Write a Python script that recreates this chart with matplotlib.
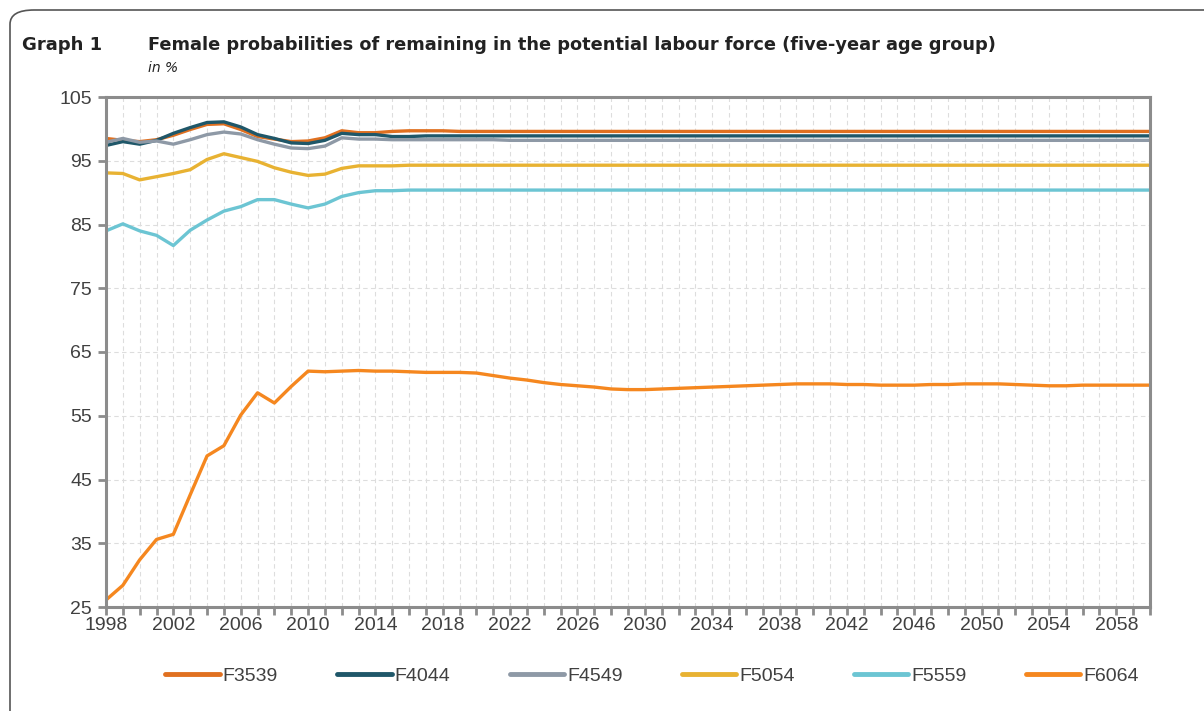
import matplotlib.pyplot as plt
from matplotlib.patches import FancyBboxPatch
from matplotlib.ticker import MultipleLocator

years = list(range(1998, 2061))

f3539 = [98.5, 98.2, 98.0, 98.3, 99.0, 99.9, 100.7, 100.8, 99.9, 98.8,
         98.4, 98.0, 98.1, 98.6, 99.7, 99.4, 99.4, 99.6, 99.7, 99.7,
         99.7, 99.6, 99.6, 99.6, 99.6, 99.6, 99.6, 99.6, 99.6, 99.6,
         99.6, 99.6, 99.6, 99.6, 99.6, 99.6, 99.6, 99.6, 99.6, 99.6,
         99.6, 99.6, 99.6, 99.6, 99.6, 99.6, 99.6, 99.6, 99.6, 99.6,
         99.6, 99.6, 99.6, 99.6, 99.6, 99.6, 99.6, 99.6, 99.6, 99.6,
         99.6, 99.6, 99.6]
f4044 = [97.4, 98.0, 97.6, 98.2, 99.3, 100.2, 101.0, 101.1, 100.3, 99.1,
         98.5, 97.8, 97.7, 98.2, 99.3, 99.1, 99.1, 98.8, 98.8, 98.9,
         98.9, 98.9, 98.9, 98.9, 98.9, 98.9, 98.9, 98.9, 98.9, 98.9,
         98.9, 98.9, 98.9, 98.9, 98.9, 98.9, 98.9, 98.9, 98.9, 98.9,
         98.9, 98.9, 98.9, 98.9, 98.9, 98.9, 98.9, 98.9, 98.9, 98.9,
         98.9, 98.9, 98.9, 98.9, 98.9, 98.9, 98.9, 98.9, 98.9, 98.9,
         98.9, 98.9, 98.9]
f4549 = [97.9, 98.5, 97.9, 98.1, 97.6, 98.3, 99.1, 99.5, 99.2, 98.3,
         97.6, 97.0, 96.9, 97.3, 98.6, 98.4, 98.4, 98.3, 98.3, 98.3,
         98.3, 98.3, 98.3, 98.3, 98.2, 98.2, 98.2, 98.2, 98.2, 98.2,
         98.2, 98.2, 98.2, 98.2, 98.2, 98.2, 98.2, 98.2, 98.2, 98.2,
         98.2, 98.2, 98.2, 98.2, 98.2, 98.2, 98.2, 98.2, 98.2, 98.2,
         98.2, 98.2, 98.2, 98.2, 98.2, 98.2, 98.2, 98.2, 98.2, 98.2,
         98.2, 98.2, 98.2]
f5054 = [93.1, 93.0, 92.0, 92.5, 93.0, 93.6, 95.2, 96.1, 95.5, 94.9,
         93.9, 93.2, 92.7, 92.9, 93.8, 94.2, 94.2, 94.2, 94.3, 94.3,
         94.3, 94.3, 94.3, 94.3, 94.3, 94.3, 94.3, 94.3, 94.3, 94.3,
         94.3, 94.3, 94.3, 94.3, 94.3, 94.3, 94.3, 94.3, 94.3, 94.3,
         94.3, 94.3, 94.3, 94.3, 94.3, 94.3, 94.3, 94.3, 94.3, 94.3,
         94.3, 94.3, 94.3, 94.3, 94.3, 94.3, 94.3, 94.3, 94.3, 94.3,
         94.3, 94.3, 94.3]
f5559 = [84.0, 85.1, 84.0, 83.3, 81.7, 84.1, 85.7, 87.1, 87.8, 88.9,
         88.9, 88.2, 87.6, 88.2, 89.4, 90.0, 90.3, 90.3, 90.4, 90.4,
         90.4, 90.4, 90.4, 90.4, 90.4, 90.4, 90.4, 90.4, 90.4, 90.4,
         90.4, 90.4, 90.4, 90.4, 90.4, 90.4, 90.4, 90.4, 90.4, 90.4,
         90.4, 90.4, 90.4, 90.4, 90.4, 90.4, 90.4, 90.4, 90.4, 90.4,
         90.4, 90.4, 90.4, 90.4, 90.4, 90.4, 90.4, 90.4, 90.4, 90.4,
         90.4, 90.4, 90.4]
f6064 = [26.1, 28.4, 32.4, 35.6, 36.4, 42.6, 48.7, 50.3, 55.1, 58.6,
         57.0, 59.6, 62.0, 61.9, 62.0, 62.1, 62.0, 62.0, 61.9, 61.8,
         61.8, 61.8, 61.7, 61.3, 60.9, 60.6, 60.2, 59.9, 59.7, 59.5,
         59.2, 59.1, 59.1, 59.2, 59.3, 59.4, 59.5, 59.6, 59.7, 59.8,
         59.9, 60.0, 60.0, 60.0, 59.9, 59.9, 59.8, 59.8, 59.8, 59.9,
         59.9, 60.0, 60.0, 60.0, 59.9, 59.8, 59.7, 59.7, 59.8, 59.8,
         59.8, 59.8, 59.8]

series = [("F3539", f3539, "#E07020"),
          ("F4044", f4044, "#1F5769"),
          ("F4549", f4549, "#8E99A6"),
          ("F5054", f5054, "#E8B232"),
          ("F5559", f5559, "#6CC5D3"),
          ("F6064", f6064, "#F5871F")]

plt.rcParams['font.family'] = ['Liberation Sans', 'DejaVu Sans']

fig = plt.figure(figsize=(12.04, 7.11), dpi=100)
ax = fig.add_axes([106 / 1204, 1 - 607 / 711, 1044 / 1204, 510 / 711])

# outer rounded frame, only top-left corner visible
frame = FancyBboxPatch((10 / 1204, -0.2), 1.2, 1.2 - 10 / 711, transform=fig.transFigure,
                       boxstyle="round,pad=0,rounding_size=0.02", fill=False,
                       edgecolor="#555555", linewidth=1.2, clip_on=False)
fig.patches.append(frame)

for name, vals, col in series:
    ax.plot(years, vals, color=col, lw=2.4, label=name, solid_capstyle='butt')

ax.set_xlim(1998, 2060)
ax.set_ylim(25, 105)
ax.set_yticks(range(25, 106, 10))
ax.set_xticks(range(1998, 2060, 4))
ax.xaxis.set_minor_locator(MultipleLocator(1))
ax.grid(True, which='both', axis='x', color='#DDDDDD', ls=(0, (4, 3)), lw=0.8)
ax.grid(True, which='major', axis='y', color='#DDDDDD', ls=(0, (4, 3)), lw=0.8)
ax.set_axisbelow(True)

for s in ax.spines.values():
    s.set_color('#8C8C8C')
    s.set_linewidth(2.2)
ax.tick_params(axis='both', which='both', color='#8C8C8C', width=2, length=6,
               labelsize=14, labelcolor='#404040', pad=1)
ax.tick_params(axis='y', pad=4)

fig.text(22 / 1204, 1 - 45 / 711, "Graph 1", fontsize=13, fontweight='bold',
         family='DejaVu Sans', color='#222222', va='center')
fig.text(148 / 1204, 1 - 45 / 711,
         "Female probabilities of remaining in the potential labour force (five-year age group)",
         fontsize=12.8, fontweight='bold', family='DejaVu Sans', color='#222222', va='center')
fig.text(148 / 1204, 1 - 68 / 711, "in %", fontsize=10, fontstyle='italic',
         family='DejaVu Sans', color='#222222', va='center')

leg = fig.legend(loc='center', bbox_to_anchor=(652 / 1204, 1 - 676 / 711), ncol=6,
                 frameon=False, fontsize=14, handlelength=2.8, handletextpad=0.15,
                 columnspacing=3.05, labelcolor='#404040')
for h in leg.legend_handles:
    h.set_linewidth(3.5)
    h.set_solid_capstyle('round')

fig.savefig("out.png", dpi=100)
